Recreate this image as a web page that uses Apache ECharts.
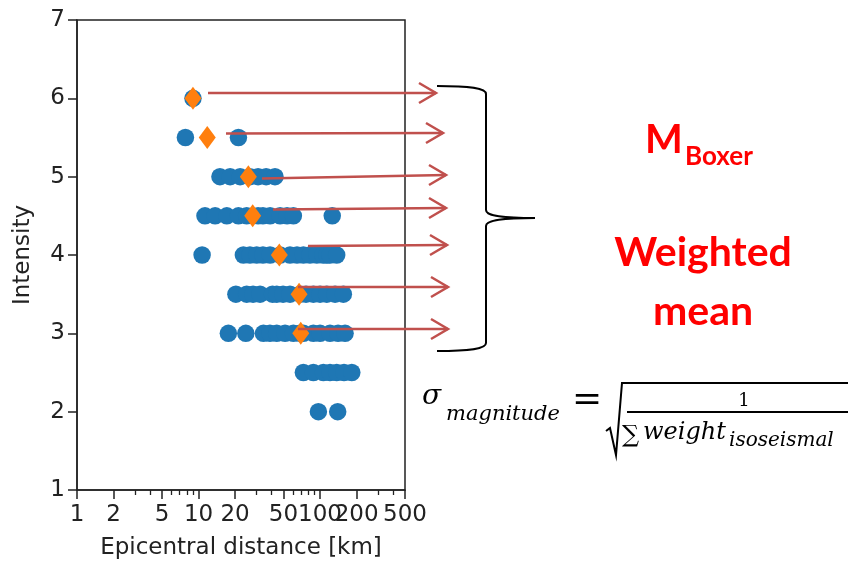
<!DOCTYPE html>
<html>
<head>
<meta charset="utf-8">
<script src="https://cdn.jsdelivr.net/npm/echarts@6.0.0/dist/echarts.min.js"></script>
<style>html,body{margin:0;padding:0;background:#fff;}#main{width:848px;height:565px;}</style>
</head>
<body>
<div id="main"></div>
<script>
// ---- data ----
const levels = [6, 5.5, 5, 4.5, 4, 3.5, 3, 2.5, 2];
const blueByLevel = [
  [9],
  [7.8, 21.3],
  [15, 18.2, 22, 26.5, 30.9, 36, 42.6],
  [11.3, 13.7, 17.1, 21.3, 24.9, 30.9, 33.9, 38.8, 46.9, 53.5, 60.3, 126],
  [10.7, 23.4, 26.5, 30.1, 33.9, 38.8, 46.9, 56.6, 64.6, 72.9, 82.6, 94, 105.8, 113.5, 120.8, 137],
  [20.3, 24.9, 28.1, 32.1, 40.6, 44, 49.6, 56.6, 68.5, 76.6, 88.1, 100, 113.5, 132.9, 155.5],
  [17.6, 24.5, 34.2, 38.7, 44, 51.5, 60.3, 68.4, 72.9, 88.1, 100, 120.8, 140.6, 160.6],
  [72.9, 88.1, 106.5, 120.8, 137, 157.4, 182.4],
  [96.9, 139.7]
];
const meanDist = [9, 11.8, 25.7, 27.9, 46.2, 67.2, 69.4];
const meanIntensity = [6, 5.5, 5, 4.5, 4, 3.5, 3];
const xMajorTicks = [1, 2, 5, 10, 20, 50, 100, 200, 500];
const xMinorTicks = [3, 4, 6, 7, 8, 9, 30, 40, 60, 70, 80, 90, 300, 400];

const bluePoints = [];
levels.forEach((lv, i) => blueByLevel[i].forEach(d => bluePoints.push([d, lv])));
const meanPoints = meanDist.map((d, i) => [d, meanIntensity[i]]);

// ---- annotation arrows (pixel space) ----
const arrows = [
  [208, 93, 436, 93],
  [226, 133.5, 443, 133],
  [262, 178.5, 446, 175],
  [273, 209.5, 446, 208],
  [308, 246, 447, 245],
  [298, 287, 448, 287],
  [298, 329, 448, 329]
];
const red = '#c0504d';
const graphics = [];
arrows.forEach(a => {
  graphics.push({type: 'line', z: 100, shape: {x1: a[0], y1: a[1], x2: a[2], y2: a[3]},
    style: {stroke: red, lineWidth: 2.5}});
  graphics.push({type: 'polyline', z: 100, shape: {points: [[a[2] - 17, a[3] - 10], [a[2], a[3]], [a[2] - 17, a[3] + 10]]},
    style: {stroke: red, lineWidth: 2.5, fill: null}});
});
// brace
const braceStyle = {stroke: '#000', lineWidth: 2, fill: null};
const braceCurves = [
  [437, 86, 486, 94, 470, 86, 486, 88],
  [486, 210, 535, 218, 486, 215, 496, 218],
  [535, 218, 486, 226, 496, 218, 486, 221],
  [486, 343, 437, 351, 486, 349, 470, 351]
];
braceCurves.forEach(c => graphics.push({type: 'bezierCurve', z: 100,
  shape: {x1: c[0], y1: c[1], x2: c[2], y2: c[3], cpx1: c[4], cpy1: c[5], cpx2: c[6], cpy2: c[7]}, style: braceStyle}));
graphics.push({type: 'line', z: 100, shape: {x1: 486, y1: 94, x2: 486, y2: 210}, style: braceStyle});
graphics.push({type: 'line', z: 100, shape: {x1: 486, y1: 226, x2: 486, y2: 343}, style: braceStyle});
// texts
const redTxt = '#ff0000';
graphics.push({type: 'text', z: 100, style: {text: 'M', x: 645, y: 140, verticalAlign: 'middle', fill: redTxt, font: 'bold 40px Lato'}});
graphics.push({type: 'text', z: 100, style: {text: 'Boxer', x: 685, y: 157, verticalAlign: 'middle', fill: redTxt, font: 'bold 26px Lato'}});
graphics.push({type: 'text', z: 100, style: {text: 'Weighted', x: 703, y: 253, align: 'center', verticalAlign: 'middle', fill: redTxt, font: 'bold 41px Lato'}});
graphics.push({type: 'text', z: 100, style: {text: 'mean', x: 703, y: 312, align: 'center', verticalAlign: 'middle', fill: redTxt, font: 'bold 41px Lato'}});
// formula
graphics.push({type: 'text', z: 100, style: {text: 'σ', x: 422, y: 397, verticalAlign: 'middle', fill: '#000', font: 'italic 28px "DejaVu Serif"'}});
graphics.push({type: 'text', z: 100, style: {text: 'magnitude', x: 446, y: 415, verticalAlign: 'middle', fill: '#000', font: 'italic 21px "DejaVu Serif"'}});
graphics.push({type: 'text', z: 100, style: {text: '=', x: 587, y: 401, align: 'center', verticalAlign: 'middle', fill: '#000', font: '36px "DejaVu Serif"'}});
graphics.push({type: 'polyline', z: 100, shape: {points: [[606, 431], [610, 428], [616, 455], [622, 383], [848, 383]]},
  style: {stroke: '#000', lineWidth: 2, fill: null}});
graphics.push({type: 'line', z: 100, shape: {x1: 627, y1: 412, x2: 848, y2: 412}, style: {stroke: '#000', lineWidth: 1.8}});
graphics.push({type: 'text', z: 100, style: {text: '1', x: 744, y: 401, align: 'center', verticalAlign: 'middle', fill: '#000', font: '18px "DejaVu Serif"'}});
graphics.push({type: 'text', z: 100, style: {text: '∑', x: 622, y: 436, verticalAlign: 'middle', fill: '#000', font: '24px "DejaVu Serif"'}});
graphics.push({type: 'text', z: 100, style: {text: 'weight', x: 643, y: 433, verticalAlign: 'middle', fill: '#000', font: 'italic 24px "DejaVu Serif"'}});
graphics.push({type: 'text', z: 100, style: {text: 'isoseismal', x: 729, y: 441, verticalAlign: 'middle', fill: '#000', font: 'italic 20px "DejaVu Serif"'}});

const axisColor = '#222';
const chart = echarts.init(document.getElementById('main'), null, {renderer: 'canvas'});
chart.setOption({
  animation: false,
  backgroundColor: '#fff',
  grid: {left: 77, right: 443, top: 20, bottom: 74, show: true, borderColor: axisColor, borderWidth: 1.5, backgroundColor: 'transparent'},
  xAxis: [{
    type: 'log', logBase: 10, min: 1, max: 500,
    name: 'Epicentral distance [km]', nameLocation: 'middle', nameGap: 47,
    nameTextStyle: {fontFamily: 'DejaVu Sans', fontSize: 23, color: axisColor},
    axisLine: {show: true, lineStyle: {color: axisColor, width: 1.5}},
    axisTick: {show: true, length: 9, customValues: xMajorTicks, lineStyle: {color: axisColor, width: 1.5}},
    axisLabel: {customValues: xMajorTicks, hideOverlap: false, fontFamily: 'DejaVu Sans', fontSize: 23, color: axisColor, margin: 14},
    minorTick: {show: false}, splitLine: {show: false}
  }, {
    type: 'log', logBase: 10, min: 1, max: 500, position: 'bottom', gridIndex: 0,
    axisLine: {show: false},
    axisTick: {show: true, length: 5, customValues: xMinorTicks, lineStyle: {color: axisColor, width: 1.3}},
    axisLabel: {show: false}, splitLine: {show: false}
  }],
  yAxis: {
    type: 'value', min: 1, max: 7, interval: 1,
    name: 'Intensity', nameLocation: 'middle', nameGap: 42,
    nameTextStyle: {fontFamily: 'DejaVu Sans', fontSize: 23, color: axisColor},
    axisLine: {show: true, lineStyle: {color: axisColor, width: 1.5}},
    axisTick: {show: true, length: 9, lineStyle: {color: axisColor, width: 1.5}},
    axisLabel: {fontFamily: 'DejaVu Sans', fontSize: 23, color: axisColor, margin: 12},
    splitLine: {show: false}
  },
  series: [{
    type: 'scatter', xAxisIndex: 0, data: bluePoints, symbol: 'circle', symbolSize: 17.5,
    itemStyle: {color: '#1f77b4', opacity: 1}, z: 2
  }, {
    type: 'scatter', xAxisIndex: 0, data: meanPoints, symbol: 'diamond', symbolSize: [17, 23],
    itemStyle: {color: '#ff7f0e', opacity: 1}, z: 3
  }],
  graphic: graphics
});
</script>
</body>
</html>
